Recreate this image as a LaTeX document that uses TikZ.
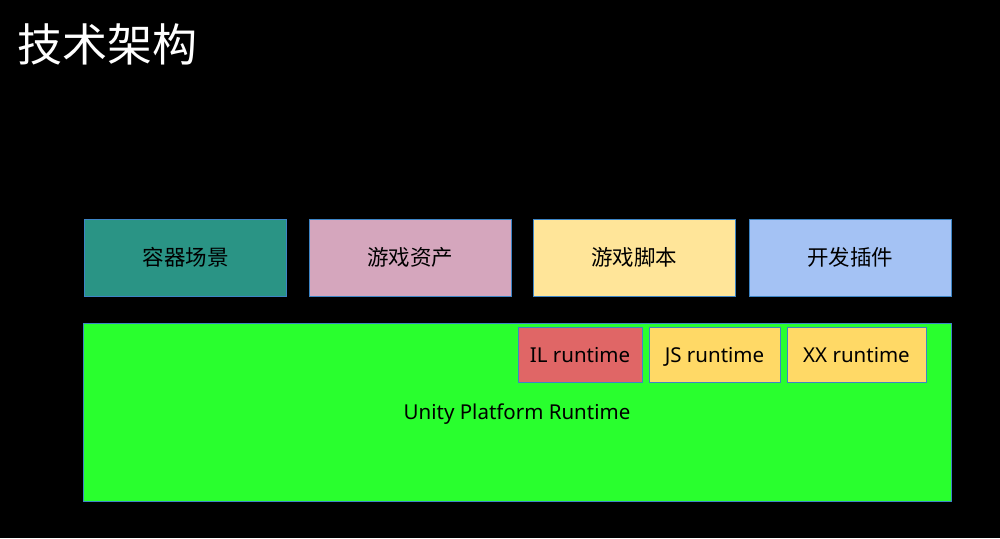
\documentclass[tikz,border=0pt]{standalone}
\usepackage{fontspec}
\setmainfont{Noto Sans}
\newfontfamily\cjk{Noto Sans CJK SC}
\definecolor{teal1}{HTML}{2A9485}
\definecolor{pink1}{HTML}{D5A6BD}
\definecolor{yel1}{HTML}{FFE599}
\definecolor{blue1}{HTML}{A4C2F4}
\definecolor{green1}{HTML}{29FF2E}
\definecolor{red1}{HTML}{E06666}
\definecolor{yel2}{HTML}{FFD966}
\definecolor{edge1}{HTML}{3D85C6}
\begin{document}
\begin{tikzpicture}[x=1pt,y=-1pt,
  box/.style={draw=edge1,line width=1pt,inner sep=0pt,outer sep=0pt,text=black},
  top/.style={box,minimum width=202pt,minimum height=77pt,font=\cjk\fontsize{21.5}{25}\selectfont},
  rt/.style={box,minimum height=55pt,text height=18pt,text depth=2pt,font=\fontsize{20.5}{24}\selectfont}]
\fill[black] (0,0) rectangle (1000,538);
\useasboundingbox (0,0) rectangle (1000,538);
\node[anchor=west,text=white,font=\cjk\fontsize{45}{50}\selectfont,inner sep=0pt] (title) at (17,44) {技术架构};
\node[top,fill=teal1] (scene) at (185.5,257.5) {容器场景};
\node[top,fill=pink1] (asset) at (410,257.5) {游戏资产};
\node[top,fill=yel1] (script) at (634,257.5) {游戏脚本};
\node[top,fill=blue1] (plugin) at (850,257.5) {开发插件};
\node[box,fill=green1,minimum width=868pt,minimum height=178pt] (platform) at (517,412) {};
\node[font=\fontsize{20.5}{24}\selectfont] (plabel) at (517,414) {Unity Platform Runtime};
\node[rt,fill=red1,minimum width=124pt] (il) at (580,354.5) {IL runtime};
\node[rt,fill=yel2,minimum width=131pt] (js) at (714.5,354.5) {JS runtime};
\node[rt,fill=yel2,minimum width=139pt] (xx) at (856.5,354.5) {XX runtime};
\end{tikzpicture}
\end{document}
